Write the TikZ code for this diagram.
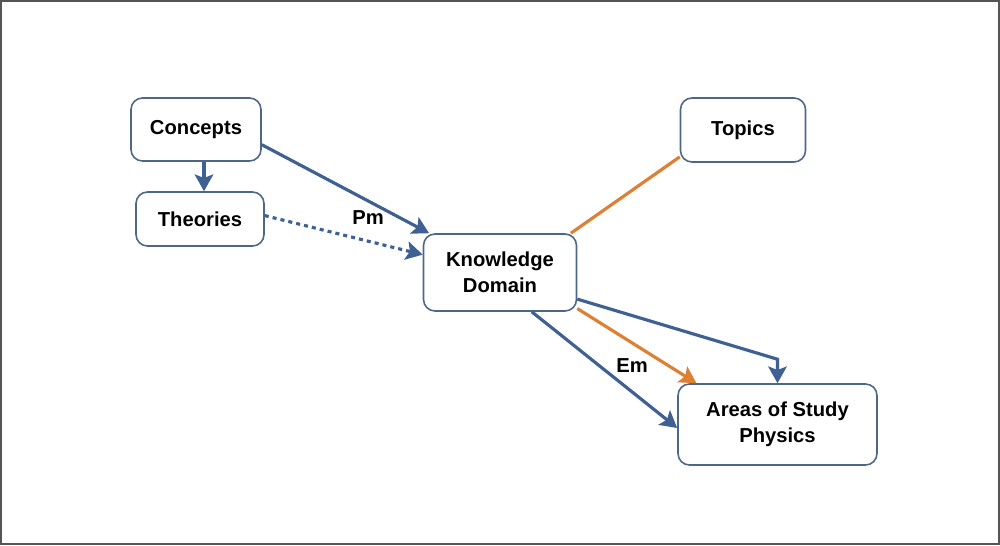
\documentclass[tikz,border=0pt]{standalone}
\usepackage{fontspec}
\setmainfont{Liberation Sans}
\usetikzlibrary{arrows.meta}
\definecolor{myblue}{RGB}{62,96,146}
\definecolor{myorange}{RGB}{222,128,52}
\definecolor{myedge}{RGB}{78,102,136}
\definecolor{myframe}{RGB}{85,85,85}

\begin{document}
\begin{tikzpicture}[x=0.02cm,y=-0.02cm,
  box/.style={rectangle,rounded corners=6.5pt,draw=myedge,line width=0.9pt,
              fill=white,align=center,inner sep=2pt,
              font=\fontsize{11.5}{15}\selectfont\bfseries},
  link/.style={-{Stealth[length=9.5pt,width=10.5pt,inset=2pt]},myblue,line width=1.8pt},
  lbl/.style={font=\fontsize{11.5}{14}\selectfont\bfseries}]
\useasboundingbox (0,0) rectangle (1000,545);
\draw[myframe,line width=1.2pt] (1,1) rectangle (999,544);
\node[box,minimum width=2.6cm,minimum height=1.26cm]  (concepts) at (196,129.5) {Concepts};
\node[box,minimum width=2.56cm,minimum height=1.08cm] (theories) at (200,219)   {Theories};
\node[box,minimum width=3.06cm,minimum height=1.54cm] (kd)       at (500,272.5) {Knowledge\\Domain};
\node[box,minimum width=2.5cm,minimum height=1.28cm]  (topics)   at (743,130)   {Topics};
\node[box,minimum width=3.98cm,minimum height=1.62cm] (areas)    at (777.5,424.5) {Areas of Study\\Physics};
\draw[link] ([xshift=0.08cm]theories.north |- concepts.south) -- ([xshift=0.08cm]theories.north);
\draw[link] (concepts.-13) -- (kd.151);
\draw[link,dash pattern=on 2.3pt off 2.3pt] (theories.3) -- (kd.167);
\draw[myorange,line width=1.8pt] (topics.203) -- (kd.29);
\draw[link] (kd.-19) -- ([yshift=0.48cm]areas.north) -- (areas.north);
\draw[link,myorange] (kd.-25) -- (areas.153);
\draw[link] (kd.-51) -- (areas.182);
\node[lbl] (pm) at (368,218) {Pm};
\node[lbl] (em) at (632,366) {Em};
\end{tikzpicture}
\end{document}
